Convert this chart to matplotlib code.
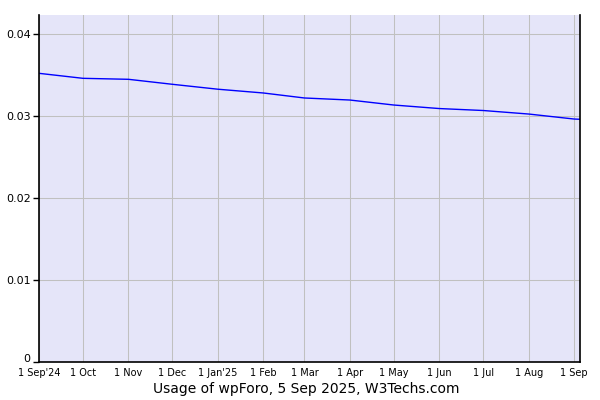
import matplotlib
matplotlib.use("Agg")
import matplotlib.pyplot as plt
import pandas as pd

# usage share of wpForo
dates = ["2024-09-01", "2024-10-01", "2024-11-01", "2024-12-01", "2025-01-01",
         "2025-02-01", "2025-03-01", "2025-04-01", "2025-05-01", "2025-06-01",
         "2025-07-01", "2025-08-01", "2025-09-01", "2025-09-05"]
usage = [0.03524, 0.03463, 0.03451, 0.0339, 0.0333, 0.03284, 0.03223,
         0.03198, 0.03137, 0.03094, 0.0307, 0.03027, 0.02966, 0.02963]
tick_dates = ["2024-09-01", "2024-10-01", "2024-11-01", "2024-12-01", "2025-01-01",
              "2025-02-01", "2025-03-01", "2025-04-01", "2025-05-01", "2025-06-01",
              "2025-07-01", "2025-08-01", "2025-09-01"]
tick_labels = ["1 Sep'24", "1 Oct", "1 Nov", "1 Dec", "1 Jan'25", "1 Feb", "1 Mar",
               "1 Apr", "1 May", "1 Jun", "1 Jul", "1 Aug", "1 Sep"]
y_ticks = [0, 0.01, 0.02, 0.03, 0.04]
y_labels = ["0", "0.01", "0.02", "0.03", "0.04"]

x = pd.to_datetime(dates)
xt = pd.to_datetime(tick_dates)

fig = plt.figure(figsize=(6, 4), dpi=100)
ax = fig.add_axes([0.065, 0.095, 0.9017, 0.8675])
ax.set_facecolor("#e5e5f9")
ax.plot(x, usage, color="#0000ff", linewidth=1)

ax.set_xlim(x[0], x[-1])
ax.set_ylim(0, 0.04236)
ax.set_xticks(xt)
ax.set_xticklabels(tick_labels, fontsize=7)
ax.set_yticks(y_ticks)
ax.set_yticklabels(y_labels, fontsize=8)
ax.tick_params(axis="x", length=0, pad=4)
ax.tick_params(axis="y", length=4, width=1, pad=2)
# sit the "0" label on the axis line so it clears the first date label
ax.get_yticklabels()[0].set_va("baseline")
ax.grid(True, color="#c0c0c0", linewidth=0.75)
ax.set_axisbelow(True)

ax.spines["top"].set_visible(False)
for s in ["left", "bottom", "right"]:
    ax.spines[s].set_color("black")
    ax.spines[s].set_linewidth(1.2)

fig.text(0.51, 0.01, "Usage of wpForo, 5 Sep 2025, W3Techs.com",
         ha="center", va="bottom", fontsize=10)

fig.savefig("out.png")
